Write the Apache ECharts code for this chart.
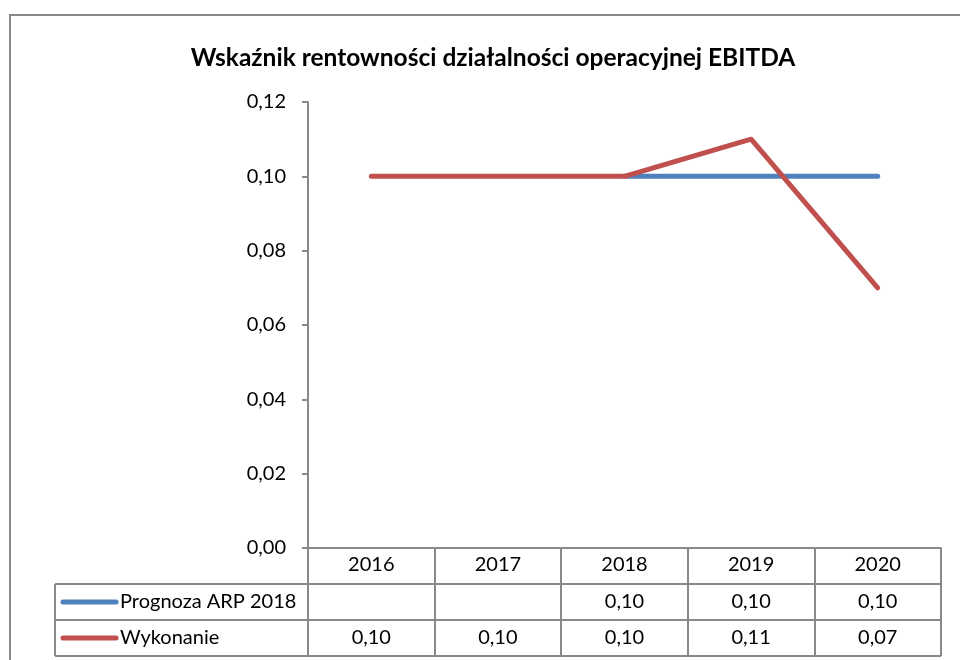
<!DOCTYPE html>
<html>
<head>
<meta charset="utf-8">
<script src="https://cdn.jsdelivr.net/npm/echarts@6/dist/echarts.min.js"></script>
<style>
  html, body { margin: 0; padding: 0; background: #fff; }
  #chart { width: 960px; height: 660px; }
</style>
</head>
<body>
<div id="chart"></div>
<script>
var years = ['2016', '2017', '2018', '2019', '2020'];
var prognoza = [null, null, 0.10, 0.10, 0.10];
var wykonanie = [0.10, 0.10, 0.10, 0.11, 0.07];
var seriesNames = ['Prognoza ARP 2018', 'Wykonanie'];
var seriesColors = ['#4F81BD', '#C0504D'];
var yTicks = [0, 0.02, 0.04, 0.06, 0.08, 0.10, 0.12];

var FONT = 'Lato, "Open Sans", sans-serif';
var GRID_COLOR = '#898989';
var ROW_H = 36;

function fmt(v) {
  return v == null ? '' : v.toFixed(2).replace('.', ',');
}

var myChart = echarts.init(document.getElementById('chart'));

myChart.setOption({
  animation: false,
  title: {
    text: 'Wskaźnik rentowności działalności operacyjnej EBITDA',
    left: 488,
    textAlign: 'center',
    top: 41,
    textStyle: { fontFamily: FONT, fontSize: 24.5, fontWeight: 'bold', color: '#000' }
  },
  grid: { left: 308, right: 19, top: 102, bottom: 112 },
  xAxis: {
    type: 'category',
    data: years,
    boundaryGap: true,
    axisLine: { lineStyle: { color: GRID_COLOR, width: 2 } },
    axisTick: { show: true, length: ROW_H * 3, lineStyle: { color: GRID_COLOR, width: 2 } },
    axisLabel: { margin: 7, fontFamily: FONT, fontSize: 20, color: '#000' },
    splitLine: { show: false }
  },
  yAxis: {
    type: 'value',
    min: yTicks[0],
    max: yTicks[yTicks.length - 1],
    interval: 0.02,
    axisLine: { show: true, lineStyle: { color: GRID_COLOR, width: 2 } },
    axisTick: { show: true, length: 6, lineStyle: { color: GRID_COLOR, width: 2 } },
    axisLabel: { margin: 22, fontFamily: FONT, fontSize: 20, color: '#000', formatter: fmt },
    splitLine: { show: false }
  },
  series: [
    {
      name: seriesNames[0],
      type: 'line',
      data: prognoza.map(function (v) { return v == null ? '-' : v; }),
      showSymbol: false,
      lineStyle: { color: seriesColors[0], width: 5, cap: 'round', join: 'round' },
      itemStyle: { color: seriesColors[0] },
      z: 2
    },
    {
      name: seriesNames[1],
      type: 'line',
      data: wykonanie,
      showSymbol: false,
      lineStyle: { color: seriesColors[1], width: 5, cap: 'round', join: 'round' },
      itemStyle: { color: seriesColors[1] },
      z: 3
    }
  ]
});

// data table under the chart, placed from the axis scales
function buildTable() {
  var c0 = myChart.convertToPixel({ xAxisIndex: 0 }, 0);
  var c1 = myChart.convertToPixel({ xAxisIndex: 0 }, 1);
  var colW = c1 - c0;
  var xLeft = c0 - colW / 2;
  var xRight = xLeft + colW * years.length;
  var y0 = myChart.convertToPixel({ yAxisIndex: 0 }, 0);
  var tableLeft = 55;
  var rows = [prognoza, wykonanie];
  var els = [];

  // outer chart border
  els.push({
    type: 'rect',
    shape: { x: 10, y: 15, width: 1000, height: 700 },
    style: { fill: 'none', stroke: GRID_COLOR, lineWidth: 2 },
    silent: true
  });

  for (var r = 0; r < rows.length; r++) {
    var top = y0 + ROW_H * (r + 1);
    els.push({
      type: 'line',
      shape: { x1: tableLeft, y1: top, x2: xRight, y2: top },
      style: { stroke: GRID_COLOR, lineWidth: 2 }
    });
    var mid = top + ROW_H / 2;
    els.push({
      type: 'line',
      shape: { x1: 63, y1: mid, x2: 116, y2: mid },
      style: { stroke: seriesColors[r], lineWidth: 5, lineCap: 'round' }
    });
    els.push({
      type: 'text',
      x: 120, y: mid,
      style: { text: seriesNames[r], font: '20px ' + FONT, fill: '#000', verticalAlign: 'middle', align: 'left' }
    });
    for (var i = 0; i < years.length; i++) {
      var cx = myChart.convertToPixel({ xAxisIndex: 0 }, i);
      els.push({
        type: 'text',
        x: cx, y: mid,
        style: { text: fmt(rows[r][i]), font: '20px ' + FONT, fill: '#000', align: 'center', verticalAlign: 'middle' }
      });
    }
  }
  var bottom = y0 + ROW_H * (rows.length + 1);
  els.push({
    type: 'line',
    shape: { x1: tableLeft, y1: bottom, x2: xRight, y2: bottom },
    style: { stroke: GRID_COLOR, lineWidth: 2 }
  });
  els.push({
    type: 'line',
    shape: { x1: tableLeft, y1: y0 + ROW_H, x2: tableLeft, y2: bottom },
    style: { stroke: GRID_COLOR, lineWidth: 2 }
  });

  myChart.setOption({ graphic: els });
}
buildTable();
</script>
</body>
</html>
